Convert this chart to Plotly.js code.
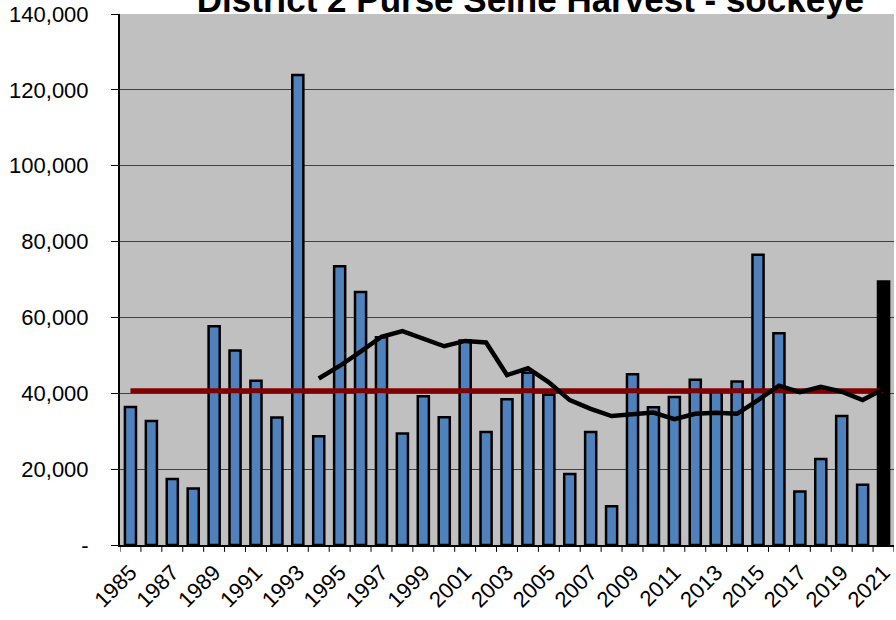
<!DOCTYPE html>
<html>
<head>
<meta charset="utf-8">
<script src="https://cdn.plot.ly/plotly-3.0.1.min.js"></script>
<style>
html,body{margin:0;padding:0;background:#fff;}
#chart{width:896px;height:620px;}
</style>
</head>
<body>
<div id="chart"></div>
<script>
var years = ["1985","1986","1987","1988","1989","1990","1991","1992","1993","1994","1995","1996","1997","1998","1999","2000","2001","2002","2003","2004","2005","2006","2007","2008","2009","2010","2011","2012","2013","2014","2015","2016","2017","2018","2019","2020","2021"];
var harvest = [36400,32700,17400,14900,57700,51300,43300,33600,123900,28700,73500,66700,54800,29400,39200,33700,53900,29800,38400,45400,39600,18700,29800,10200,45000,36300,39000,43600,40300,43100,76500,55800,14100,22700,34000,15900,69500];
var avgYears = ["1994","1995","1996","1997","1998","1999","2000","2001","2002","2003","2004","2005","2006","2007","2008","2009","2010","2011","2012","2013","2014","2015","2016","2017","2018","2019","2020","2021"];
var movingAvg = [43900,47200,51000,54900,56400,54300,52400,53800,53400,44800,46600,42900,38200,35900,34000,34500,34900,33200,34600,34900,34600,38200,42000,40300,41700,40400,38200,41100];
var longTermMean = 40700;
var yTickVals = [0,20000,40000,60000,80000,100000,120000,140000];
var yTickText = ["-","20,000","40,000","60,000","80,000","100,000","120,000","140,000"];
var xTickLabels = ["1985","1987","1989","1991","1993","1995","1997","1999","2001","2003","2005","2007","2009","2011","2013","2015","2017","2019","2021"];

var barColors = years.map(function(y, i){ return i === years.length - 1 ? "#000000" : "#4F81BD"; });
var meanLine = years.map(function(){ return longTermMean; });

var data = [
  {
    type: "bar", x: years, y: harvest, name: "Harvest",
    marker: {color: barColors, line: {color: "#000000", width: 2.5}},
    hoverinfo: "x+y"
  },
  {
    type: "scatter", mode: "lines", x: years, y: meanLine, name: "Average",
    line: {color: "#800000", width: 5}
  },
  {
    type: "scatter", mode: "lines", x: avgYears, y: movingAvg, name: "Moving average",
    line: {color: "#000000", width: 4.5}
  }
];

var layout = {
  width: 896, height: 620,
  margin: {l: 120, r: 2, t: 14, b: 75, pad: 0},
  paper_bgcolor: "#FFFFFF",
  plot_bgcolor: "#C0C0C0",
  showlegend: false,
  bargap: 0.47,
  font: {family: "Liberation Sans, Arial, sans-serif", color: "#000000"},
  title: {
    text: "<b>District 2 Purse Seine Harvest - sockeye</b>",
    font: {family: "Liberation Sans, Arial, sans-serif", size: 35, color: "#000000"},
    xref: "container", x: 0.592, xanchor: "center",
    yref: "container", y: 1, yanchor: "middle"
  },
  xaxis: {
    type: "category",
    tickmode: "array", tickvals: xTickLabels, ticktext: xTickLabels,
    tickangle: -45,
    tickfont: {size: 22, color: "#000000"},
    ticks: "", showgrid: false,
    ticklabelstandoff: 4,
    showline: true, linecolor: "#000000", linewidth: 2,
    range: [-0.5, 36.5], fixedrange: true
  },
  yaxis: {
    range: [0, 140000],
    tickmode: "array", tickvals: yTickVals, ticktext: yTickText,
    tickfont: {size: 22, color: "#000000"},
    ticks: "outside", ticklen: 7, tickcolor: "#000000", tickwidth: 1,
    ticklabelstandoff: 18,
    showgrid: true, gridcolor: "#404040", gridwidth: 1,
    showline: true, linecolor: "#000000", linewidth: 2,
    zeroline: false, fixedrange: true
  },
  shapes: []
};

// category boundary tick marks on the x axis
for (var k = 0; k <= years.length; k++) {
  layout.shapes.push({
    type: "line", xref: "x", yref: "paper",
    x0: k - 0.5, x1: k - 0.5, y0: 0, y1: -0.013,
    line: {color: "#000000", width: 1}
  });
}

Plotly.newPlot("chart", data, layout, {displayModeBar: false, staticPlot: true});
</script>
</body>
</html>
